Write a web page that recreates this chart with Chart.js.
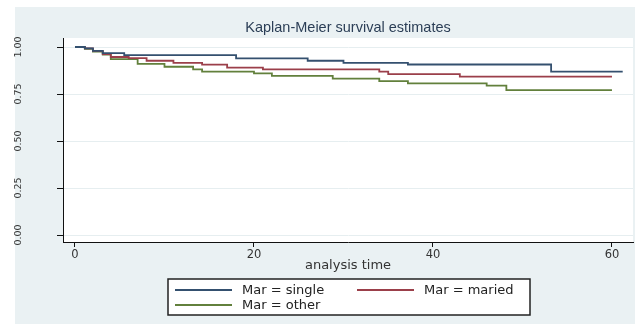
<!DOCTYPE html>
<html>
<head>
<meta charset="utf-8">
<script src="https://cdn.jsdelivr.net/npm/chart.js@4.4.1/dist/chart.umd.min.js"></script>
<style>
  html, body { margin: 0; padding: 0; background: #ffffff; }
  #wrap { width: 635px; height: 324px; }
</style>
</head>
<body>
<div id="wrap"><canvas id="c" width="635" height="324"></canvas></div>
<script>
// ---- data ----
const chartTitle = 'Kaplan-Meier survival estimates';
const xAxisTitle = 'analysis time';
const xTicks = [0, 20, 40, 60];
const yTicks = [0, 0.25, 0.5, 0.75, 1];
const yTickLabels = ['0.00', '0.25', '0.50', '0.75', '1.00'];

const seriesLabels = ['Mar = single', 'Mar = maried', 'Mar = other'];

const singleTime = [0, 1.1, 2, 3.1, 5.5, 18, 26, 30, 37.2, 53.2, 61.2];
const singleSurv = [1, 0.993, 0.98, 0.968, 0.957, 0.940, 0.927, 0.916, 0.907, 0.869, 0.869];

const mariedTime = [0, 1.1, 2, 3.1, 4, 6, 8, 11, 14.2, 17, 21, 34, 35, 43, 60];
const mariedSurv = [1, 0.993, 0.979, 0.963, 0.947, 0.941, 0.927, 0.916, 0.906, 0.890, 0.881, 0.869, 0.856, 0.843, 0.843];

const otherTime = [0, 1.1, 2, 3.1, 4, 7, 10, 13.2, 14.2, 20, 22, 28.8, 34, 37.2, 46, 48.2, 60];
const otherSurv = [1, 0.99, 0.976, 0.96, 0.936, 0.91, 0.895, 0.881, 0.869, 0.860, 0.847, 0.832, 0.819, 0.807, 0.795, 0.771, 0.771];

const seriesColors = ['#34506f', '#9b3f4a', '#62803c'];

function toPoints(ts, vs) { return ts.map((t, i) => ({x: t, y: vs[i]})); }

const backgroundPlugin = {
  id: 'stataBackground',
  beforeDraw(chart) {
    const ctx = chart.ctx;
    const a = chart.chartArea;
    ctx.save();
    ctx.fillStyle = '#ffffff';
    ctx.fillRect(0, 0, chart.width, chart.height);
    ctx.fillStyle = '#eaf1f3';
    ctx.fillRect(15, 7, chart.width - 15, chart.height - 7);
    ctx.fillStyle = '#ffffff';
    ctx.fillRect(a.left, a.top, a.right - a.left, a.bottom - a.top);
    ctx.restore();
  }
};

const legendBoxPlugin = {
  id: 'stataLegend',
  afterDraw(chart) {
    const ctx = chart.ctx;
    const box = {x: 168, y: 279, w: 362, h: 36};
    ctx.save();
    ctx.fillStyle = '#ffffff';
    ctx.fillRect(box.x, box.y, box.w, box.h);
    ctx.strokeStyle = '#222222';
    ctx.lineWidth = 1.5;
    ctx.strokeRect(box.x, box.y, box.w, box.h);
    const slots = [{x: 175, y: 290}, {x: 357, y: 290}, {x: 175, y: 305}];
    ctx.font = '13px "DejaVu Sans", sans-serif';
    ctx.textBaseline = 'middle';
    ctx.textAlign = 'left';
    chart.data.datasets.forEach((ds, i) => {
      const s = slots[i];
      ctx.strokeStyle = ds.borderColor;
      ctx.lineWidth = 2;
      ctx.beginPath();
      ctx.moveTo(s.x, s.y);
      ctx.lineTo(s.x + 57, s.y);
      ctx.stroke();
      ctx.fillStyle = '#222222';
      ctx.fillText(ds.label, s.x + 67, s.y + 0.5);
    });
    ctx.restore();
  }
};

const datasets = [
  {label: seriesLabels[0], data: toPoints(singleTime, singleSurv), borderColor: seriesColors[0]},
  {label: seriesLabels[1], data: toPoints(mariedTime, mariedSurv), borderColor: seriesColors[1]},
  {label: seriesLabels[2], data: toPoints(otherTime, otherSurv), borderColor: seriesColors[2]}
].map(d => Object.assign(d, {stepped: true, borderWidth: 1.8, pointRadius: 0, fill: false, tension: 0}));

new Chart(document.getElementById('c'), {
  type: 'line',
  data: {datasets: datasets},
  plugins: [backgroundPlugin, legendBoxPlugin],
  options: {
    responsive: false,
    devicePixelRatio: 1,
    animation: false,
    layout: {padding: {left: 0, right: 2, top: 0, bottom: 47}},
    plugins: {
      legend: {display: false},
      tooltip: {enabled: false},
      title: {
        display: true,
        fullSize: false,
        text: chartTitle,
        color: '#2b3e56',
        font: {family: '"Liberation Sans", Arial, sans-serif', size: 14.5, weight: 'normal', lineHeight: 1.2},
        padding: {top: 19.5, bottom: 1.1}
      }
    },
    scales: {
      x: {
        type: 'linear',
        min: -1.34,
        max: 62.35,
        afterBuildTicks(scale) { scale.ticks = xTicks.map(v => ({value: v})); },
        afterFit(scale) { scale.height = 35; },
        ticks: {
          color: '#333333',
          font: {family: '"DejaVu Sans", sans-serif', size: 11.5},
          padding: 1,
          maxRotation: 0,
          callback: (v) => String(v)
        },
        grid: {drawOnChartArea: false, drawTicks: true, tickLength: 5, tickColor: '#111111'},
        border: {display: true, color: '#111111', width: 1},
        title: {
          display: true,
          text: xAxisTitle,
          color: '#333333',
          font: {family: '"DejaVu Sans", sans-serif', size: 13},
          padding: {top: 0, bottom: 4}
        }
      },
      y: {
        type: 'linear',
        min: -0.037,
        max: 1.048,
        afterBuildTicks(scale) { scale.ticks = yTicks.map(v => ({value: v})); },
        afterFit(scale) { scale.width = 63; },
        ticks: {
          color: '#333333',
          font: {family: '"DejaVu Sans", sans-serif', size: 9.5},
          minRotation: 90,
          maxRotation: 90,
          crossAlign: 'center',
          padding: 28,
          callback: (v) => { const i = yTicks.indexOf(v); return i >= 0 ? yTickLabels[i] : ''; }
        },
        grid: {color: '#e6eef0', lineWidth: 1, drawTicks: true, tickLength: 6, tickColor: '#111111'},
        border: {display: true, color: '#111111', width: 1}
      }
    }
  }
});
</script>
</body>
</html>
